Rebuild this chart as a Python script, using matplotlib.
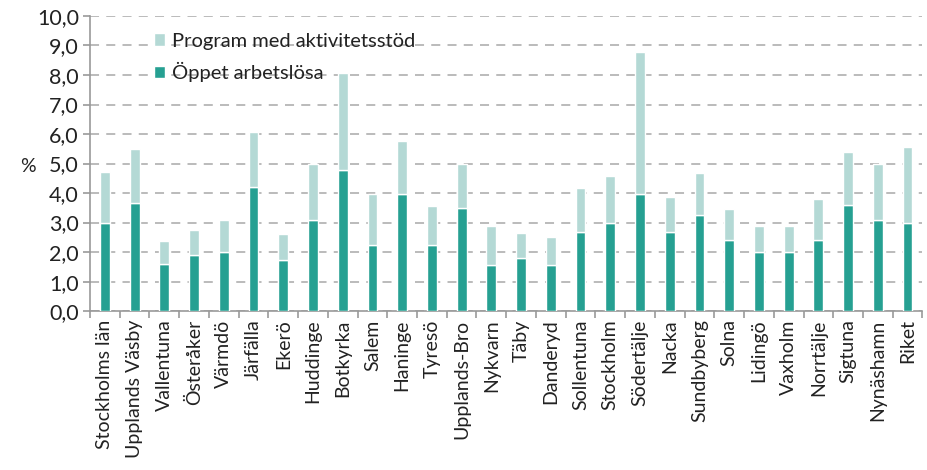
import matplotlib
matplotlib.use("Agg")
import matplotlib.pyplot as plt
import numpy as np

categories = ["Stockholms län", "Upplands Väsby", "Vallentuna", "Österåker", "Värmdö",
              "Järfälla", "Ekerö", "Huddinge", "Botkyrka", "Salem", "Haninge", "Tyresö",
              "Upplands-Bro", "Nykvarn", "Täby", "Danderyd", "Sollentuna", "Stockholm",
              "Södertälje", "Nacka", "Sundbyberg", "Solna", "Lidingö", "Vaxholm",
              "Norrtälje", "Sigtuna", "Nynäshamn", "Riket"]
oppet = [3.0, 3.65, 1.6, 1.9, 2.0, 4.2, 1.72, 3.08, 4.78, 2.23, 3.98, 2.23,
         3.5, 1.58, 1.8, 1.55, 2.68, 2.98, 3.96, 2.68, 3.26, 2.4, 2.0, 2.0,
         2.4, 3.58, 3.08, 2.98]
totals = [4.7, 5.48, 2.38, 2.75, 3.08, 6.07, 2.6, 5.0, 8.07, 3.96, 5.76, 3.57,
          5.0, 2.9, 2.66, 2.52, 4.18, 4.58, 8.78, 3.87, 4.69, 3.47, 2.9, 2.9,
          3.8, 5.4, 5.0, 5.57]
program = [t - o for t, o in zip(totals, oppet)]
yticks = np.arange(0, 10.01, 1.0)
ytick_labels = [f"{v:.1f}".replace(".", ",") for v in yticks]

dark = "#26a092"
light = "#b4d9d5"
font = ["Lato", "DejaVu Sans"]
plt.rcParams['font.family'] = font

fig = plt.figure(figsize=(9.28, 4.70), dpi=100)
ax = fig.add_axes([0.097, 0.338, 0.897, 0.628])
x = np.arange(len(categories))
w = 0.33
ax.bar(x, oppet, width=w, color=dark, edgecolor="white", linewidth=1.0, zorder=3,
       label="Öppet arbetslösa")
ax.bar(x, program, width=w, bottom=oppet, color=light, edgecolor="white", linewidth=1.0,
       zorder=3, label="Program med aktivitetsstöd")

ax.set_xlim(-0.5, len(categories) - 0.5)
ax.set_ylim(0, 10)
ax.set_yticks(yticks)
ax.set_yticklabels(ytick_labels, fontsize=15.5, color="#222222")
ax.yaxis.grid(True, linestyle=(0, (5, 4)), color="#b5b5b5", linewidth=1.3, zorder=0)
ax.set_axisbelow(True)

ax.set_xticks(x)
ax.set_xticklabels(categories, rotation=90, fontsize=14, color="#222222")
ax.set_xticks(np.arange(-0.5, len(categories), 1.0), minor=True)
ax.tick_params(axis="x", which="major", length=0, pad=6)
ax.tick_params(axis="x", which="minor", length=5, color="#999999", width=1.2)
ax.tick_params(axis="y", length=5, color="#999999", width=1.2, pad=3)

for s in ["top", "right"]:
    ax.spines[s].set_visible(False)
for s in ["left", "bottom"]:
    ax.spines[s].set_color("#999999")
    ax.spines[s].set_linewidth(1.2)

fig.text(0.022, 0.645, "%", fontsize=14, color="#222222", va="center", ha="left")

handles, labels = ax.get_legend_handles_labels()
leg = ax.legend(handles[::-1], labels[::-1], loc="upper left", bbox_to_anchor=(0.055, 1.005),
                frameon=False, fontsize=14.5, handlelength=0.55, handleheight=0.55,
                handletextpad=0.35, labelspacing=0.6)
for t in leg.get_texts():
    t.set_color("#222222")

fig.savefig("out.png", dpi=100)
